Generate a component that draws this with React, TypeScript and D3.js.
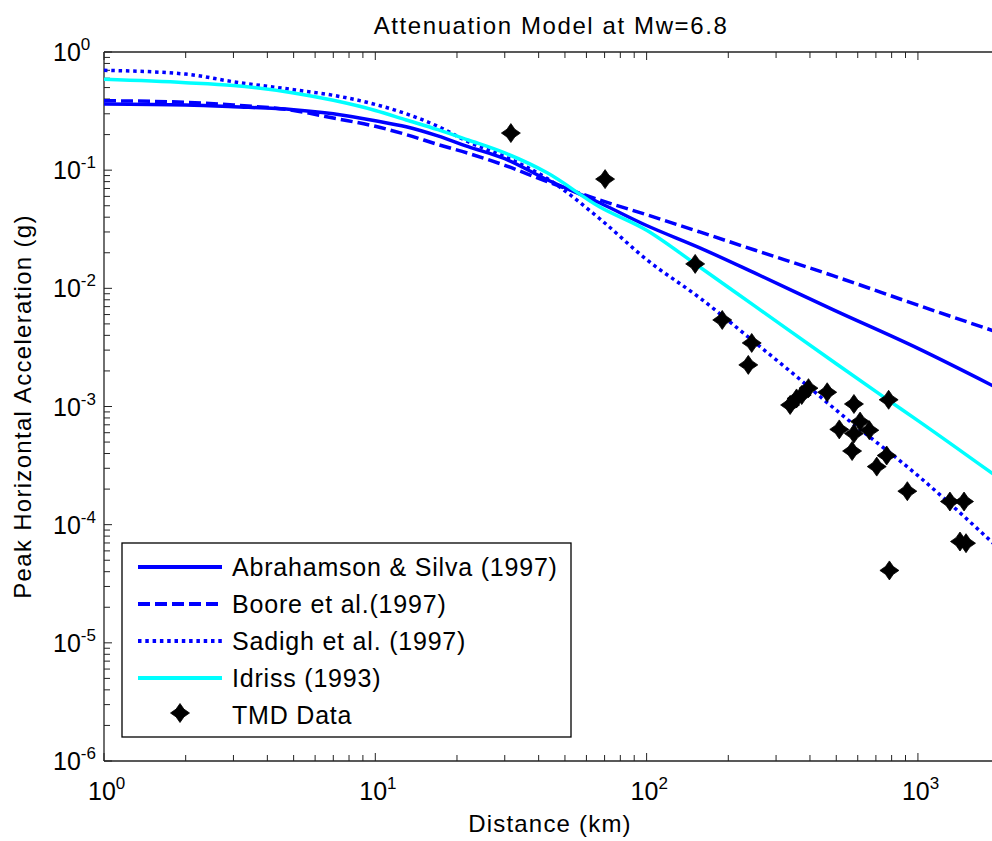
import React from "react";
import * as d3 from "d3";

const distances = [1, 2, 3, 5, 7, 10, 13, 17, 22, 30, 43, 67, 100, 157, 250, 486, 1000, 2000];
const abrahamson = [0.363, 0.356, 0.344, 0.325, 0.3, 0.262, 0.233, 0.195, 0.158, 0.125, 0.083, 0.053, 0.034, 0.022, 0.0135, 0.0066, 0.0031, 0.0014];
const boore = [0.387, 0.375, 0.356, 0.32, 0.276, 0.235, 0.2, 0.165, 0.139, 0.11, 0.08, 0.056, 0.042, 0.03, 0.0211, 0.0128, 0.0072, 0.0042];
const sadighDist = [1, 2, 3, 5, 7, 10, 13, 17, 22, 30, 43, 67, 100, 157, 250, 367, 500, 1000, 2000];
const sadigh = [0.7, 0.65, 0.56, 0.48, 0.43, 0.36, 0.3, 0.235, 0.174, 0.13, 0.085, 0.039, 0.0175, 0.0083, 0.0035, 0.0017, 0.00093, 0.00026, 0.000062];
const idrissDist = [1, 2, 3, 5, 7, 10, 13, 17, 22, 30, 43, 67, 100, 150, 250, 500, 770, 1000, 2000];
const idriss = [0.587, 0.55, 0.52, 0.45, 0.39, 0.32, 0.266, 0.22, 0.18, 0.14, 0.095, 0.049, 0.031, 0.0163, 0.0071, 0.0023, 0.00115, 0.00076, 0.000245];

const tmdDist = [31.6, 70.3, 151, 190, 244, 237, 338, 357, 373, 395, 463, 581, 612, 662, 513, 581, 572, 767, 705, 780, 914, 1312, 1479, 1429, 1504, 785];
const tmdPga = [0.206, 0.084, 0.0161, 0.0054, 0.00345, 0.00225, 0.00103, 0.00117, 0.00125, 0.00143, 0.00132, 0.00105, 0.000745, 0.00063, 0.00064, 0.00059, 0.00042, 0.000385, 0.00031, 0.00114, 0.000192, 0.000157, 0.000157, 0.000072, 0.0000697, 0.000041];

const legendLabels = ["Abrahamson & Silva (1997)", "Boore et al.(1997)", "Sadigh et al. (1997)", "Idriss (1993)", "TMD Data"];
const yDecades = [0, -1, -2, -3, -4, -5, -6];
const xDecades = [0, 1, 2, 3];

const FONT = "'Liberation Sans', Arial, Helvetica, sans-serif";
const BLUE = "#0000ff";
const CYAN = "#00ffff";

const x = d3.scaleLog().domain([1, 2000]).range([104, 999.6]);
const y = d3.scaleLog().domain([1e-6, 1]).range([761, 52]);

const starPath = "M0,-9.5L3.9,-3.9L9.5,0L3.9,3.9L0,9.5L-3.9,3.9L-9.5,0L-3.9,-3.9Z";

const series = [
  { d: distances, v: abrahamson, color: BLUE, dash: undefined as string | undefined },
  { d: distances, v: boore, color: BLUE, dash: "12,5" },
  { d: sadighDist, v: sadigh, color: BLUE, dash: "3.5,3.8" },
  { d: idrissDist, v: idriss, color: CYAN, dash: undefined },
];

export default function App() {
  const line = d3.line<[number, number]>().x((p) => x(p[0])).y((p) => y(p[1])).curve(d3.curveMonotoneX);
  const xTicks = x.ticks();
  const yTicks = y.ticks();
  const L = x.range()[0];
  const R = x.range()[1];
  const B = y.range()[0];
  const T = y.range()[1];
  const isMajor = (v: number) => Math.abs(Math.log10(v) - Math.round(Math.log10(v))) < 1e-9;

  return (
    <svg width={992} height={841} style={{ position: "absolute", left: 0, top: 0, background: "#fff" }} fontFamily={FONT}>
      <rect x={0} y={0} width={992} height={841} fill="#fff" />
      <defs>
        <clipPath id="plot">
          <rect x={L} y={T} width={R - L} height={B - T} />
        </clipPath>
      </defs>
      {xTicks.map((t, i) => {
        const len = isMajor(t) ? 8 : 6;
        return (
          <g key={"xt" + i} stroke="#222" strokeWidth={1}>
            <line x1={x(t)} x2={x(t)} y1={B} y2={B - len} />
            <line x1={x(t)} x2={x(t)} y1={T} y2={T + len} />
          </g>
        );
      })}
      {yTicks.map((t, i) => {
        const len = isMajor(t) ? 8 : 6;
        return <line key={"yt" + i} x1={L} x2={L + len} y1={y(t)} y2={y(t)} stroke="#222" strokeWidth={1} />;
      })}
      <line x1={L} x2={L} y1={T} y2={B} stroke="#222" strokeWidth={1.3} />
      <line x1={L} x2={R} y1={B} y2={B} stroke="#222" strokeWidth={1.3} />
      <line x1={L} x2={R} y1={T} y2={T} stroke="#222" strokeWidth={1.3} />
      <line x1={R} x2={R} y1={T} y2={B} stroke="#222" strokeWidth={1.3} />

      <g clipPath="url(#plot)">
        {series.map((s, i) => (
          <path
            key={"s" + i}
            d={line(s.d.map((dd, j) => [dd, s.v[j]] as [number, number])) || ""}
            fill="none"
            stroke={s.color}
            strokeWidth={3.5}
            strokeDasharray={s.dash}
          />
        ))}
        {tmdDist.map((dd, i) => (
          <path key={"m" + i} d={starPath} transform={`translate(${x(dd)},${y(tmdPga[i])})`} fill="#000" stroke="#000" strokeWidth={0.8} strokeLinejoin="round" />
        ))}
      </g>

      {yDecades.map((e) => (
        <text key={"yl" + e} x={53} y={y(Math.pow(10, e)) + 9} fontSize={25} fill="#000">
          <tspan>10</tspan>
          <tspan dy={-11} fontSize={17}>{String(e)}</tspan>
        </text>
      ))}
      {xDecades.map((e) => (
        <text key={"xl" + e} x={x(Math.pow(10, e)) - 16} y={800} fontSize={25} fill="#000">
          <tspan>10</tspan>
          <tspan dy={-11} fontSize={17}>{String(e)}</tspan>
        </text>
      ))}

      <text x={551} y={34} textAnchor="middle" fontSize={24} letterSpacing={1.6} fill="#000">
        Attenuation Model at Mw=6.8
      </text>
      <text x={550} y={832} textAnchor="middle" fontSize={24} letterSpacing={1.2} fill="#000">
        Distance (km)
      </text>
      <text
        transform={`translate(31,${(T + B) / 2}) rotate(-90)`}
        textAnchor="middle"
        fontSize={24}
        letterSpacing={1.3}
        fill="#000"
      >
        Peak Horizontal Acceleration (g)
      </text>

      <rect x={122} y={543} width={449} height={194} fill="#fff" stroke="#000" strokeWidth={1.3} />
      {legendLabels.map((lab, i) => {
        const cy = 567 + i * 37;
        const s = series[i];
        return (
          <g key={"lg" + i}>
            {s ? (
              <line x1={138} x2={222} y1={cy} y2={cy} stroke={s.color} strokeWidth={4} strokeDasharray={s.dash} />
            ) : (
              <path d={starPath} transform={`translate(180,${cy - 2})`} fill="#000" stroke="#000" strokeWidth={0.8} strokeLinejoin="round" />
            )}
            <text x={232} y={cy + 9} fontSize={25} letterSpacing={0.8} fill="#000">
              {lab}
            </text>
          </g>
        );
      })}
    </svg>
  );
}
